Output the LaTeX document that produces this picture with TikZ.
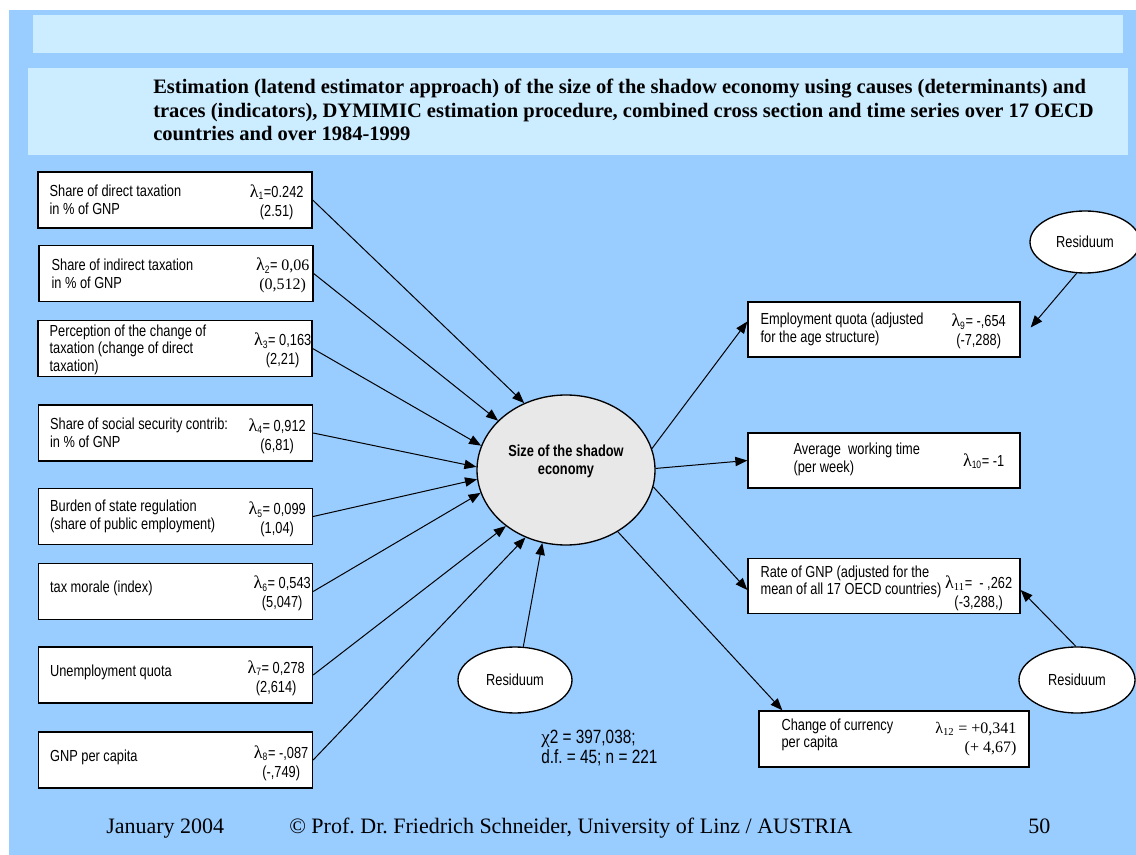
\documentclass[tikz,border=0pt]{standalone}
\usepackage{fontspec}
\setmainfont{Liberation Serif}
\newfontfamily\nar[FakeStretch=0.8]{Liberation Sans}
\newfontfamily\grk{Liberation Serif}
\usetikzlibrary{shapes.geometric,arrows.meta,calc}
\definecolor{bgblue}{HTML}{99CCFF}
\definecolor{barblue}{HTML}{CCECFF}
\definecolor{ellgray}{HTML}{E8E8E8}
\newcommand{\pxu}{0.75pt}
\newcommand{\lamb}{{\grk\fontsize{13.5}{14}\selectfont λ}}
\frenchspacing
\tikzset{
  box/.style={draw=black, line width=1pt, fill=white, minimum width={274*\pxu}, minimum height={56*\pxu}, inner sep=0pt},
  rbox/.style={box, minimum width={272*\pxu}, minimum height={55*\pxu}},
  txt/.style={font=\nar\fontsize{12}{13.2}\selectfont, align=left, inner sep=0pt, anchor=west},
  lab/.style={font=\nar\fontsize{12}{14}\selectfont, align=center, inner sep=0pt},
  arr/.style={-{Triangle[length=9pt,width=7pt]}, line width=0.75pt},
  ell/.style={ellipse, draw=black, line width=1pt, fill=white, inner sep=0pt, font=\nar\fontsize{12}{13.2}\selectfont},
  ttl/.style={font=\fontsize{15.4}{18}\selectfont\bfseries, anchor=base west, inner sep=0pt},
  foot/.style={font=\fontsize{16.5}{19}\selectfont, anchor=base west, inner sep=0pt},
  stat/.style={font=\nar\fontsize{14.4}{16}\selectfont, anchor=base west, inner sep=0pt}
}
\begin{document}
\begin{tikzpicture}[x=0.75pt,y=-0.75pt]
\useasboundingbox (0,0) rectangle (1136,855);
\fill[white] (0,0) rectangle (1136,855);
\fill[bgblue] (9,10) rectangle (1136,855);
\fill[barblue] (33,15) rectangle (1123,53);
\fill[barblue] (28,68) rectangle (1128,155);

% title
\node[ttl] (t1) at (153,94) {Estimation (latend estimator approach) of the size of the shadow economy using causes (determinants) and};
\node[ttl] (t2) at (153,118) {traces (indicators), DYMIMIC estimation procedure, combined cross section and time series over 17 OECD};
\node[ttl] (t3) at (153,141) {countries and over 1984-1999};

% left boxes
\node[box] (b1) at (175,200) {};
\node[box] (b2) at (176,273.5) {};
\node[box] (b3) at (175,348.5) {};
\node[box] (b4) at (175.5,433) {};
\node[box] (b5) at (175.5,516.5) {};
\node[box] (b6) at (175.5,591.5) {};
\node[box] (b7) at (175.5,675) {};
\node[box] (b8) at (175.5,760) {};

\node[txt] (b1t) at ($(b1.west)+(12,0)$) {Share of direct taxation\\in \% of GNP};
\node[txt] (b2t) at ($(b2.west)+(13,0)$) {Share of indirect taxation\\in \% of GNP};
\node[txt] (b3t) at ($(b3.west)+(12,1)$) {Perception of the change of\\taxation (change of direct\\taxation)};
\node[txt] (b4t) at ($(b4.west)+(12,0)$) {Share of social security contrib:\\in \% of GNP};
\node[txt] (b5t) at ($(b5.west)+(12,0)$) {Burden of state regulation\\(share of public employment)};
\node[txt] (b6t) at ($(b6.west)+(12,-3)$) {tax morale (index)};
\node[txt] (b7t) at ($(b7.west)+(12,-3)$) {Unemployment quota};
\node[txt] (b8t) at ($(b8.west)+(12,-3)$) {GNP per capita};

\node[lab] (b1l) at ($(b1.east)+(-36,2)$) {\lamb\textsubscript{1}=0.242\\(2.51)};
\node[lab] (b2l) at ($(b2.east)+(-31,2)$) {\lamb\textsubscript{2}= {\grk 0,06}\\{\grk (0,512)}};
\node[lab] (b3l) at ($(b3.east)+(-30,2)$) {\lamb\textsubscript{3}= 0,163\\(2,21)};
\node[lab] (b4l) at ($(b4.east)+(-36,3)$) {\lamb\textsubscript{4}= 0,912\\(6,81)};
\node[lab] (b5l) at ($(b5.east)+(-36,3)$) {\lamb\textsubscript{5}= 0,099\\(1,04)};
\node[lab] (b6l) at ($(b6.east)+(-31,2)$) {\lamb\textsubscript{6}= 0,543\\(5,047)};
\node[lab] (b7l) at ($(b7.east)+(-37,3)$) {\lamb\textsubscript{7}= 0,278\\(2,614)};
\node[lab] (b8l) at ($(b8.east)+(-32,3)$) {\lamb\textsubscript{8}= -,087\\(-,749)};

% right boxes
\node[rbox] (emp) at (884,329.5) {};
\node[rbox] (avg) at (884,460.5) {};
\node[rbox] (rate) at (884,586) {};
\node[rbox, minimum width={270*\pxu}, minimum height={56*\pxu}] (chg) at (894,739) {};

\node[txt] (empt) at ($(emp.west)+(13,0)$) {Employment quota (adjusted\\for the age structure)};
\node[txt] (avgt) at ($(avg.west)+(46,-1)$) {Average\ \ working time\\(per week)};
\node[txt] (ratet) at ($(rate.west)+(13,-4)$) {Rate of GNP (adjusted for the\\mean of all 17 OECD countries)};
\node[txt] (chgt) at ($(chg.west)+(23,-4)$) {Change of currency\\per capita};

\node[lab] (empl) at ($(emp.east)+(-42,2)$) {\lamb\textsubscript{9}= -,654\\(-7,288)};
\node[lab] (avgl) at ($(avg.east)+(-37,1)$) {\lamb\textsubscript{10}= -1};
\node[lab] (ratel) at ($(rate.east)+(-42,7)$) {\lamb\textsubscript{{\grk 11}}= \ - ,262\\(-3,288,)};
\node[lab, anchor=east, align=right, font=\grk\fontsize{12}{14}\selectfont] (chgl) at ($(chg.east)+(-13,0)$) {λ\textsubscript{12} = +0,341\\(+ 4,67)};

% ellipses
\node[ell, fill=ellgray, minimum width={178*\pxu}, minimum height={150*\pxu}] (main) at (566,470) {};
\node[font=\nar\bfseries\fontsize{12}{13.5}\selectfont, align=center, inner sep=0pt] (maint) at (566,461) {Size of the shadow\\economy};
\node[ell, minimum width={114*\pxu}, minimum height={66*\pxu}] (res1) at (515,680) {Residuum};
\node[ell, minimum width={110*\pxu}, minimum height={62*\pxu}] (res2) at (1085,242) {Residuum};
\node[ell, minimum width={116*\pxu}, minimum height={66*\pxu}] (res3) at (1077,680) {Residuum};

% statistics
\node[stat] (st1) at (541,743) {{\grk χ}2 = 397,038;};
\node[stat] (st2) at (541,763) {d.f. = 45; n = 221};

% arrows in
\draw[arr] (b1.east) -- (main.122.7);
\draw[arr] (b2.east) -- (main.144.3);
\draw[arr] (b3.east) -- (main.164.3);
\draw[arr] (b4.east) -- (main.178.7);
\draw[arr] (b5.east) -- (main.186.4);
\draw[arr] (b6.east) -- (main.195.7);
\draw[arr] (b7.east) -- (main.223.6);
\draw[arr] (b8.east) -- (main.239.5);
\draw[arr] (res1.76) -- (main.252.7);

% arrows out
\draw[arr] (main.14.5) -- ($(emp.west)+(0,-8)$);
\draw[arr] (main.1) -- (avg.west);
\draw[arr] (main.-11.4) -- ($(rate.west)+(0,4)$);
\draw[arr] (main.-50) -- ($(chg.north west)+(24,0)$);
\draw[arr] (res2.255) -- ($(emp.east)+(10,-2)$);
\draw[arr] (res3.92) -- ($(rate.east)+(0,4)$);

% footer
\node[foot] (f1) at (106,833) {January 2004};
\node[foot] (f2) at (289,833) {© Prof. Dr. Friedrich Schneider, University of Linz / AUSTRIA};
\node[foot] (f3) at (1028,833) {50};
\end{tikzpicture}
\end{document}
